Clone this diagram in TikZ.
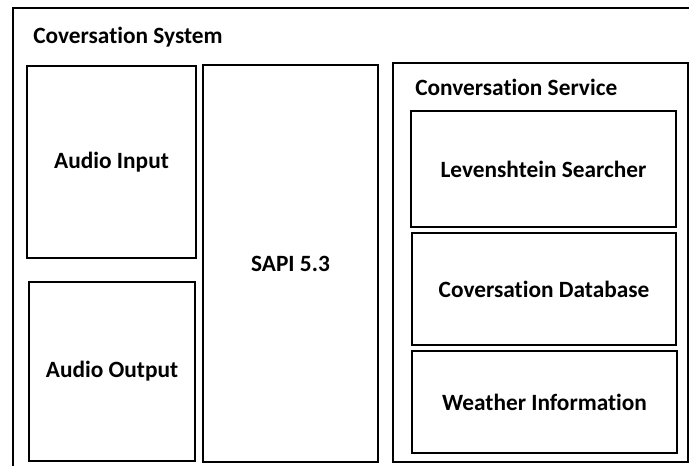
\documentclass[tikz,border=0pt]{standalone}
\usepackage{fontspec}
\setmainfont{Carlito}[Ligatures=NoCommon]
\begin{document}
\begin{tikzpicture}[x=0.75pt,y=-0.75pt,
  box/.style={draw=black,line width=1.5pt,inner sep=0pt,outer sep=0pt,align=center,font=\fontsize{17.5}{20}\selectfont\bfseries},
  lbl/.style={inner sep=0pt,anchor=west,font=\fontsize{17.5}{20}\selectfont\bfseries}]
\useasboundingbox (0,0) rectangle (689,466);
\fill[white] (0,0) rectangle (689,466);
\begin{scope}
\clip (0,0) rectangle (689,466);
\node[box,minimum width=515.25pt,minimum height=354pt] (sys) at (356.5,244) {};
\node[box,minimum width=221.25pt,minimum height=299.25pt] (cs) at (540.5,262.5) {};
\end{scope}
\node[lbl] (systitle) at (33,37) {Coversation System};
\node[lbl] (cstitle) at (415,87) {Conversation Service};
\node[box,minimum width=126.75pt,minimum height=144pt] (ain) at (111.5,162) {Audio Input};
\node[box,minimum width=124.5pt,minimum height=134.25pt] (aout) at (112,371.5) {Audio Output};
\node[box,minimum width=131.25pt,minimum height=297.75pt] (sapi) at (290.5,263.5) {SAPI 5.3};
\node[box,minimum width=198.75pt,minimum height=87pt] (lev) at (543.5,169) {Levenshtein Searcher};
\node[box,minimum width=198pt,minimum height=84pt] (db) at (544,289) {Coversation Database};
\node[box,minimum width=198.75pt,minimum height=76.5pt] (wi) at (544.5,402) {Weather Information};
\end{tikzpicture}
\end{document}
